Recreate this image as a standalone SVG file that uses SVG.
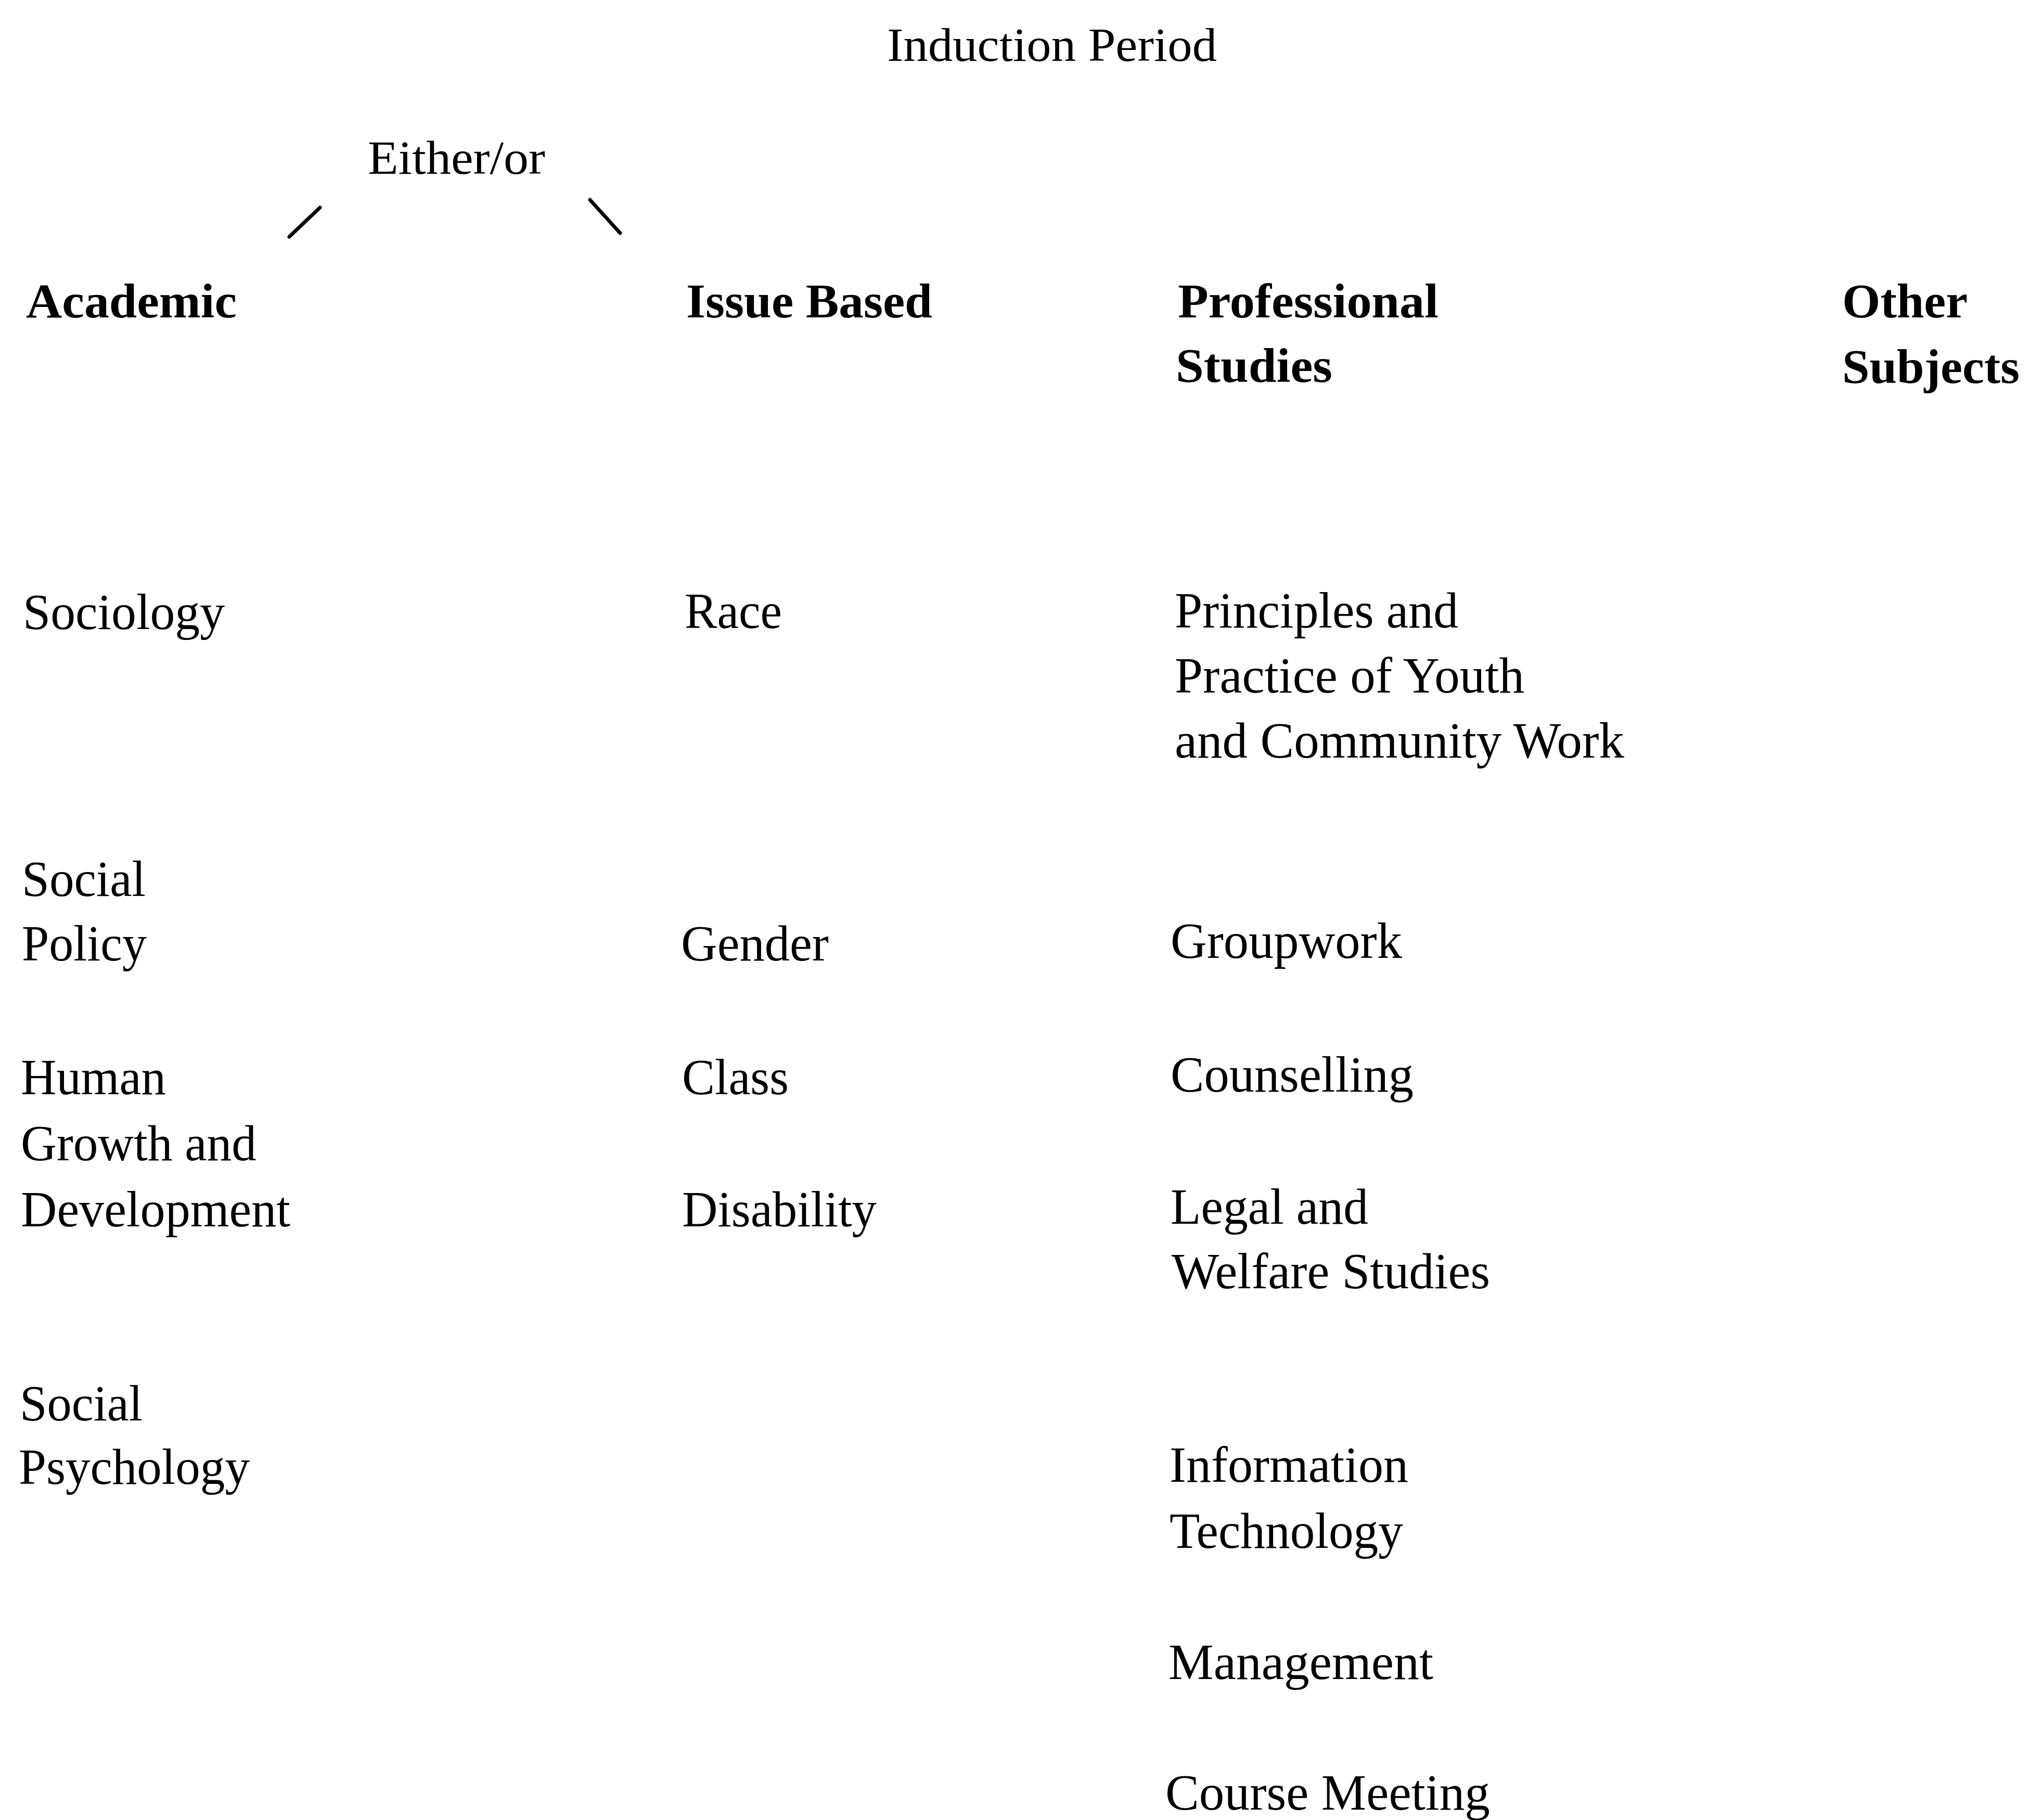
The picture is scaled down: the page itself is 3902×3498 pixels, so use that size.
<svg xmlns="http://www.w3.org/2000/svg" width="3902" height="3498" viewBox="0 0 3902 3498">
<style>
text{font-family:"Liberation Serif","Times New Roman",serif;font-size:98px;fill:#000}
.h{font-weight:bold;font-size:94px}
.t{font-size:92px}
.c{stroke:#000;stroke-width:7;stroke-linecap:round;fill:none}
</style>
<rect width="3902" height="3498" fill="#fff"/>
<g id="induction"><text class="t" x="1705" y="117" textLength="634" lengthAdjust="spacingAndGlyphs">Induction Period</text></g>
<g id="eitheror"><text class="t" x="707" y="334" textLength="341" lengthAdjust="spacingAndGlyphs">Either/or</text></g>
<g id="connectors">
<line class="c" x1="556" y1="455" x2="615" y2="399"/>
<line class="c" x1="1134" y1="384" x2="1192" y2="448"/>
</g>
<g id="academic"><text class="h" x="50" y="610" textLength="405" lengthAdjust="spacingAndGlyphs">Academic</text></g>
<g id="issue"><text class="h" x="1319" y="610" textLength="473" lengthAdjust="spacingAndGlyphs">Issue Based</text></g>
<g id="professional"><text class="h" x="2264" y="610" textLength="501" lengthAdjust="spacingAndGlyphs">Professional</text><text class="h" x="2260" y="734" textLength="301" lengthAdjust="spacingAndGlyphs">Studies</text></g>
<g id="other"><text class="h" x="3541" y="610" textLength="241" lengthAdjust="spacingAndGlyphs">Other</text><text class="h" x="3541" y="736" textLength="341" lengthAdjust="spacingAndGlyphs">Subjects</text></g>
<g id="sociology"><text x="44" y="1209" textLength="388" lengthAdjust="spacingAndGlyphs">Sociology</text></g>
<g id="race"><text x="1316" y="1207" textLength="187" lengthAdjust="spacingAndGlyphs">Race</text></g>
<g id="principles"><text x="2258" y="1206" textLength="545" lengthAdjust="spacingAndGlyphs">Principles and</text><text x="2258" y="1331" textLength="672" lengthAdjust="spacingAndGlyphs">Practice of Youth</text><text x="2258" y="1456" textLength="864" lengthAdjust="spacingAndGlyphs">and Community Work</text></g>
<g id="socialpolicy"><text x="42" y="1722" textLength="238" lengthAdjust="spacingAndGlyphs">Social</text><text x="42" y="1846" textLength="240" lengthAdjust="spacingAndGlyphs">Policy</text></g>
<g id="gender"><text x="1309" y="1846" textLength="284" lengthAdjust="spacingAndGlyphs">Gender</text></g>
<g id="groupwork"><text x="2250" y="1841" textLength="445" lengthAdjust="spacingAndGlyphs">Groupwork</text></g>
<g id="human"><text x="40" y="2103" textLength="279" lengthAdjust="spacingAndGlyphs">Human</text><text x="40" y="2230" textLength="453" lengthAdjust="spacingAndGlyphs">Growth and</text><text x="40" y="2357" textLength="518" lengthAdjust="spacingAndGlyphs">Development</text></g>
<g id="class"><text x="1311" y="2103" textLength="205" lengthAdjust="spacingAndGlyphs">Class</text></g>
<g id="counselling"><text x="2250" y="2098" textLength="467" lengthAdjust="spacingAndGlyphs">Counselling</text></g>
<g id="disability"><text x="1311" y="2357" textLength="374" lengthAdjust="spacingAndGlyphs">Disability</text></g>
<g id="legal"><text x="2250" y="2352" textLength="380" lengthAdjust="spacingAndGlyphs">Legal and</text><text x="2252" y="2476" textLength="612" lengthAdjust="spacingAndGlyphs">Welfare Studies</text></g>
<g id="socialpsych"><text x="38" y="2730" textLength="236" lengthAdjust="spacingAndGlyphs">Social</text><text x="36" y="2852" textLength="444" lengthAdjust="spacingAndGlyphs">Psychology</text></g>
<g id="infotech"><text x="2248" y="2848" textLength="459" lengthAdjust="spacingAndGlyphs">Information</text><text x="2248" y="2975" textLength="449" lengthAdjust="spacingAndGlyphs">Technology</text></g>
<g id="management"><text x="2246" y="3227" textLength="509" lengthAdjust="spacingAndGlyphs">Management</text></g>
<g id="coursemeeting"><text x="2240" y="3478" textLength="624" lengthAdjust="spacingAndGlyphs">Course Meeting</text></g>
</svg>
